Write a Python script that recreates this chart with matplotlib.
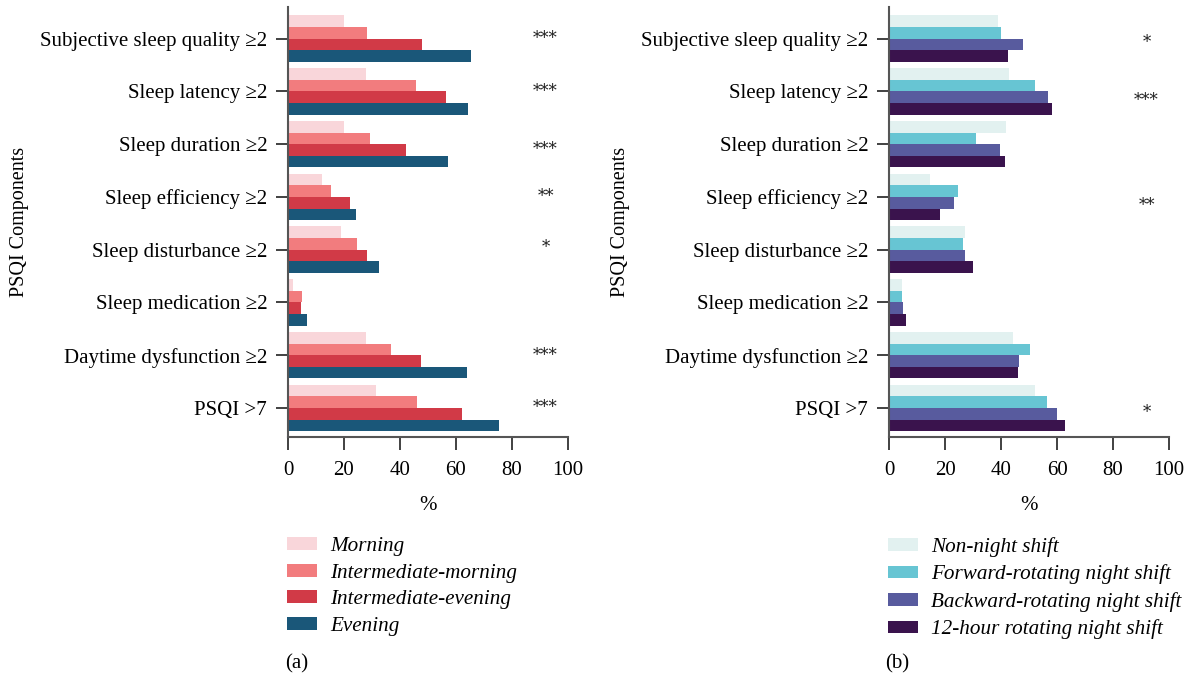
import matplotlib
matplotlib.use("Agg")
import matplotlib.pyplot as plt
import numpy as np

plt.rcParams['font.family'] = ['Liberation Serif', 'DejaVu Serif']

categories = ["Subjective sleep quality \u22652", "Sleep latency \u22652", "Sleep duration \u22652",
              "Sleep efficiency \u22652", "Sleep disturbance \u22652", "Sleep medication \u22652",
              "Daytime dysfunction \u22652", "PSQI >7"]

# Panel (a): chronotype
chrono_labels = ["Morning", "Intermediate-morning", "Intermediate-evening", "Evening"]
morning = [20.0, 27.9, 20.0, 12.1, 18.9, 1.8, 27.9, 31.4]
inter_morning = [28.2, 45.7, 29.3, 15.4, 24.6, 5.0, 36.8, 46.1]
inter_evening = [47.9, 56.4, 42.1, 22.1, 28.2, 4.6, 47.5, 62.1]
evening = [65.4, 64.3, 57.1, 24.3, 32.5, 6.8, 64.0, 75.2]
chrono_sig = ["***", "***", "***", "**", "*", "", "***", "***"]
chrono_colors = ["#F9D6DA", "#F27C7E", "#D13A47", "#1A5779"]

# Panel (b): shift type
shift_labels = ["Non-night shift", "Forward-rotating night shift",
                "Backward-rotating night shift", "12-hour rotating night shift"]
non_night = [38.9, 42.9, 41.8, 14.6, 27.1, 4.6, 44.4, 52.1]
forward = [40.0, 52.1, 31.0, 24.6, 26.4, 4.6, 50.4, 56.4]
backward = [47.9, 56.8, 39.6, 23.2, 27.1, 5.0, 46.4, 60.0]
twelve_hour = [42.5, 58.2, 41.4, 18.2, 30.0, 6.1, 46.0, 62.9]
shift_sig = ["*", "***", "", "**", "", "", "", "*"]
shift_colors = ["#E2F1F0", "#67C5D3", "#585B9E", "#3A134D"]

xticks = [0, 20, 40, 60, 80, 100]

fig = plt.figure(figsize=(11.89, 6.77), dpi=100)
W, H = 1189, 677
ax1 = fig.add_axes([288 / W, 1 - 437 / H, 280 / W, 430 / H])
ax2 = fig.add_axes([889 / W, 1 - 437 / H, 280 / W, 430 / H])

FS_Y = 15
FS_X = 15
FS_LEG = 15.2
spine_col = "#555555"


def draw(ax, series, labels, colors, sig, letter, star_off):
    y = np.arange(len(categories))
    h = 0.22
    offs = [-1.5, -0.5, 0.5, 1.5]
    handles = []
    for vals, lab, col, o in zip(series, labels, colors, offs):
        b = ax.barh(y + o * h, vals, height=h, color=col, label=lab, linewidth=0)
        handles.append(b)
    for i, s in enumerate(sig):
        if s:
            ax.text(92, y[i] + star_off[i], s, ha='center', va='center', fontsize=12,
                    color='#222222', family='DejaVu Serif')
    ax.set_xlim(0, 100)
    ax.set_ylim(7.55, -0.6)
    ax.set_yticks(y)
    ax.set_yticklabels(categories, fontsize=FS_Y)
    ax.set_xticks(xticks)
    ax.set_xticklabels([str(t) for t in xticks], fontsize=FS_X)
    ax.set_xlabel("%", fontsize=FS_X, labelpad=12)
    ax.set_ylabel("PSQI Components", fontsize=14.5)
    ax.yaxis.set_label_coords(-0.925, 0.5)
    for side in ['top', 'right']:
        ax.spines[side].set_visible(False)
    for side in ['left', 'bottom']:
        ax.spines[side].set_color(spine_col)
        ax.spines[side].set_linewidth(1.5)
    ax.tick_params(axis='y', length=9, width=1.3, color='#333333', pad=6)
    ax.tick_params(axis='x', length=9, width=1.3, color='#333333', pad=8)
    ax.legend(handles=handles, loc='upper left', bbox_to_anchor=(-0.035, -0.213),
              frameon=False, prop={'style': 'italic', 'size': FS_LEG},
              handlelength=1.45, handleheight=0.55, handletextpad=0.6, labelspacing=0.36,
              borderaxespad=0)
    ax.text(0.03, -0.527, letter, transform=ax.transAxes, fontsize=FS_X, ha='center', va='center')


draw(ax1, [morning, inter_morning, inter_evening, evening], chrono_labels, chrono_colors, chrono_sig, "(a)",
     [0.0, 0.0, 0.1, 0.0, -0.05, 0.0, 0.0, 0.0])
draw(ax2, [non_night, forward, backward, twelve_hour], shift_labels, shift_colors, shift_sig, "(b)",
     [0.08, 0.18, 0.0, 0.16, 0.0, 0.0, 0.0, 0.08])

fig.savefig("out.png", dpi=100)
